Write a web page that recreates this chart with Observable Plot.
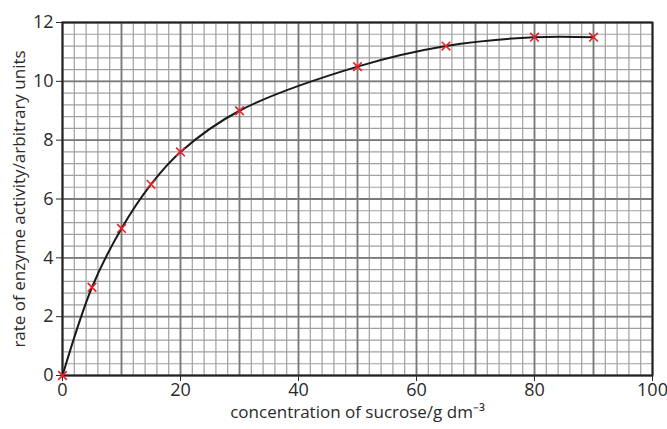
<!DOCTYPE html>
<html>
<head>
<meta charset="utf-8">
<script src="https://cdn.jsdelivr.net/npm/d3@7"></script>
<script src="https://cdn.jsdelivr.net/npm/@observablehq/plot@0.6"></script>
<style>
  body { margin: 0; background: #fff; }
  svg { font-family: "Open Sans", sans-serif; }
  g[aria-label="x-axis tick label"] text, g[aria-label="y-axis tick label"] text { font-size: 18px !important; }
  g[aria-label="x-axis label"] text, g[aria-label="y-axis label"] text { font-size: 17px !important; }
</style>
</head>
<body>
<div id="chart"></div>
<script>
const sucrose = [0, 5, 10, 15, 20, 30, 50, 65, 80, 90];
const rate = [0, 3, 5, 6.5, 7.6, 9, 10.5, 11.2, 11.5, 11.5];
const xTicks = [0, 20, 40, 60, 80, 100];
const yTicks = [0, 2, 4, 6, 8, 10, 12];
const xMinor = d3.range(0, 101, 2);
const xMajor = d3.range(0, 101, 10);
const yMinor = d3.range(0, 31).map(i => i * 0.4);
const yMajor = d3.range(0, 13, 2);

const data = sucrose.map((s, i) => ({s, r: rate[i]}));

const chart = Plot.plot({
  width: 667,
  height: 429,
  marginLeft: 62,
  marginTop: 22,
  marginRight: 15,
  marginBottom: 54,
  style: {fontFamily: "'Open Sans', sans-serif", background: "#fff", color: "#2a2a2a"},
  x: {domain: [0, 100]},
  y: {domain: [0, 12]},
  marks: [
    Plot.ruleX(xMinor, {stroke: "#a0a0a0", strokeWidth: 1.2}),
    Plot.ruleY(yMinor, {stroke: "#a0a0a0", strokeWidth: 1.2}),
    Plot.ruleX(xMajor, {stroke: "#7a7a7a", strokeWidth: 1.8}),
    Plot.ruleY(yMajor, {stroke: "#7a7a7a", strokeWidth: 1.8}),
    Plot.frame({stroke: "#222", strokeWidth: 2}),
    Plot.axisX({ticks: xTicks, tickSize: 6, tickPadding: 2, fontSize: 18,
      label: "concentration of sucrose/g dm⁻³", labelAnchor: "center", labelArrow: "none", labelOffset: 42}),
    Plot.axisY({ticks: yTicks, tickSize: 6, tickPadding: 3, fontSize: 18,
      label: "rate of enzyme activity/arbitrary units", labelAnchor: "center", labelArrow: "none", labelOffset: 50}),
    Plot.line(data, {x: "s", y: "r", curve: "catmull-rom", stroke: "#1a1a1a", strokeWidth: 2}),
    Plot.dot(data, {x: "s", y: "r", symbol: "times", r: 4, stroke: "#e8202a", strokeWidth: 1.6})
  ]
});
document.getElementById("chart").appendChild(chart);
</script>
</body>
</html>
